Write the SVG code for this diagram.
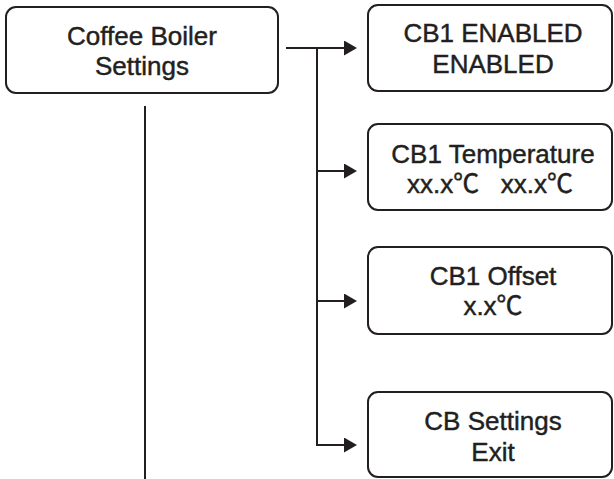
<svg xmlns="http://www.w3.org/2000/svg" width="614" height="479" viewBox="0 0 614 479">
<style>
.box{fill:#fff;stroke:#231f20;stroke-width:2}
.t{font-family:"Liberation Sans","Noto Sans CJK KR",sans-serif;font-size:26px;fill:#231f20;stroke:#231f20;stroke-width:0.45;text-anchor:middle;white-space:pre}
.ln{fill:none;stroke:#231f20;stroke-width:2}
</style>
<defs>
<marker id="ah" viewBox="0 0 13 15" refX="0" refY="7.5" markerWidth="13" markerHeight="15" markerUnits="userSpaceOnUse" orient="auto">
<path d="M0,0 L13,7.5 L0,15 Z" fill="#231f20"/>
</marker>
</defs>
<rect width="614" height="479" fill="#fff"/>
<g id="n-coffee-boiler">
<rect class="box" x="6" y="7" width="272" height="86" rx="10"/>
<text class="t" x="142" y="45">Coffee Boiler</text>
<text class="t" x="142" y="75">Settings</text>
</g>
<g id="n-cb1-enabled">
<rect class="box" x="368" y="5" width="244" height="86" rx="10"/>
<text class="t" x="493" y="42">CB1 ENABLED</text>
<text class="t" x="493" y="73">ENABLED</text>
</g>
<g id="n-cb1-temp">
<rect class="box" x="368" y="124" width="244" height="86" rx="10"/>
<text class="t" x="493" y="163">CB1 Temperature</text>
<text class="t" x="490" y="193" xml:space="preserve">xx.x℃   xx.x℃</text>
</g>
<g id="n-cb1-offset">
<rect class="box" x="368" y="247" width="244" height="87" rx="10"/>
<text class="t" x="493" y="285">CB1 Offset</text>
<text class="t" x="493" y="315">x.x℃</text>
</g>
<g id="n-cb-exit">
<rect class="box" x="368" y="392" width="244" height="85" rx="10"/>
<text class="t" x="493" y="430">CB Settings</text>
<text class="t" x="493" y="461">Exit</text>
</g>
<g id="connectors">
<line class="ln" x1="286" y1="48" x2="344" y2="48" marker-end="url(#ah)"/>
<polyline class="ln" points="317,48 317,445 344,445" marker-end="url(#ah)"/>
<line class="ln" x1="317" y1="171" x2="344" y2="171" marker-end="url(#ah)"/>
<line class="ln" x1="317" y1="301" x2="344" y2="301" marker-end="url(#ah)"/>
<line class="ln" x1="145" y1="106" x2="145" y2="479"/>
</g>
</svg>
